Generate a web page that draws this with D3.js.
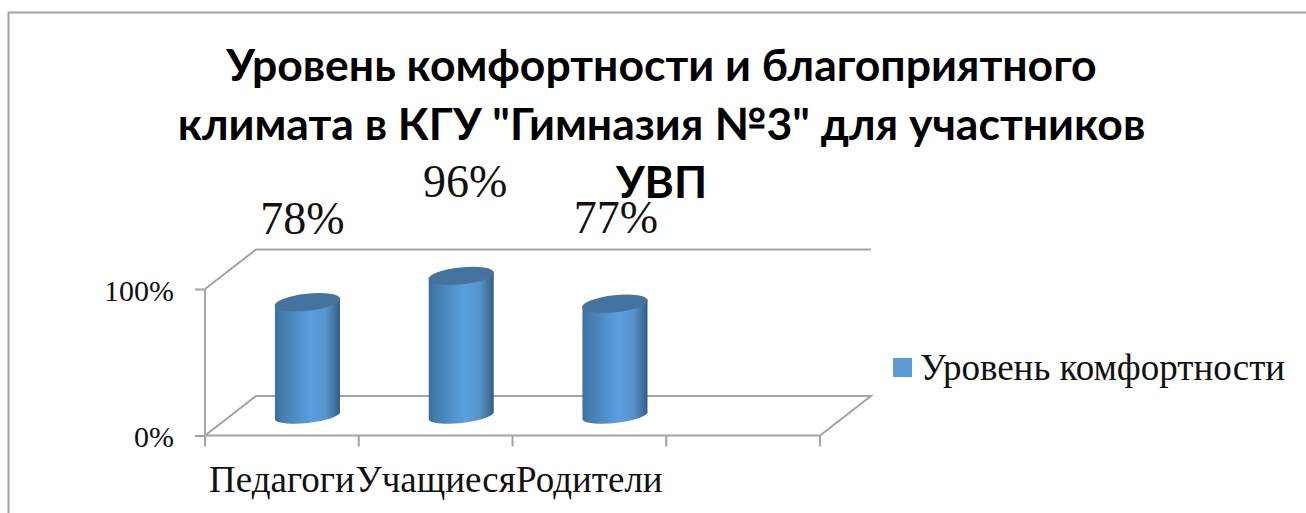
<!DOCTYPE html>
<html><head><meta charset="utf-8">
<script src="https://cdn.jsdelivr.net/npm/d3@7"></script>
<style>html,body{margin:0;padding:0;background:#fff}svg{display:block}</style>
</head><body><div id="c"></div>
<script>
const categories = ["Педагоги","Учащиеся","Родители",""];
const values = [78,96,77,null];
const seriesName = "Уровень комфортности";
const yTicks = [0,100];
const titleLines = ["Уровень комфортности и благоприятного","климата в КГУ \"Гимназия №3\" для участников","УВП"];

const labelNudge = [[-5,-68],[4,-79],[1,-71]];
const W=1306,H=513;
const svg=d3.select("#c").append("svg").attr("width",W).attr("height",H);
const defs=svg.append("defs");
const g=defs.append("linearGradient").attr("id","cyl");
[[0,"#3d6f9e"],[0.12,"#457dae"],[0.55,"#5b9fe0"],[0.78,"#5793cb"],[0.94,"#3f6f9b"],[1,"#33597c"]].forEach(s=>g.append("stop").attr("offset",s[0]).attr("stop-color",s[1]));

const GRID="#a3a3a3";
svg.append("path").attr("d",`M8.5,${H}V12.5H${W}`).attr("fill","none").attr("stroke",GRID).attr("stroke-width",2);

const x=d3.scaleBand().domain(categories).range([205,820]).padding(0);
const y=d3.scaleLinear().domain([0,100]).range([435.5,289]);
const dx=51,dy=-39.5;

const walls=svg.append("g").attr("fill","none").attr("stroke",GRID).attr("stroke-width",2);
const x0=x.range()[0],x1=x.range()[1];
walls.append("path").attr("d",`M${x0},${y(0)}L${x0+dx},${y(0)+dy}H${x1+dx}L${x1},${y(0)}Z`);
walls.append("path").attr("d",`M${x0},${y(100)}L${x0+dx},${y(100)+dy}H${x1+dx}`);
walls.append("path").attr("d",`M${x0},${y(100)}V${y(0)}`);

const yAxis=d3.axisLeft(y).tickValues(yTicks).tickFormat(d=>d+"%").tickSize(10).tickPadding(21);
const ya=svg.append("g").attr("transform",`translate(${x0},0)`).call(yAxis);
ya.select(".domain").remove();
ya.selectAll("line").attr("stroke",GRID).attr("stroke-width",2);
ya.selectAll("text").attr("font-family","'Liberation Serif'").attr("font-size",30).attr("fill","#111").attr("dy","0.37em");

const xTickPos=d3.range(categories.length+1).map(i=>x0+i*x.step());
svg.append("g").selectAll("line").data(xTickPos).join("line")
  .attr("x1",d=>d).attr("x2",d=>d).attr("y1",y(0)).attr("y2",y(0)+11)
  .attr("stroke",GRID).attr("stroke-width",2);
svg.append("g").selectAll("text").data(categories).join("text")
  .attr("x",d=>x(d)+x.bandwidth()/2).attr("y",492).attr("text-anchor","middle")
  .attr("font-family","'Liberation Serif'").attr("font-size",37).attr("fill","#111").text(d=>d);

const rx=32.5, tilt=-6, ry=8.5, floorY=y(0)-19, cx=25.6;
const hScale=v=>y(0)-y(v);
const data=categories.map((c,i)=>({c,v:values[i],i})).filter(d=>d.v!=null);
const bars=svg.append("g").selectAll("g").data(data).join("g")
  .attr("transform",d=>`translate(${x(d.c)+x.bandwidth()/2+cx},${floorY})`);
const sl=Math.tan(-tilt*Math.PI/180)*rx;
bars.append("path").attr("fill","url(#cyl)").attr("d",d=>{
  const h=hScale(d.v);
  return `M${-rx},${sl-h}L${-rx},${sl}A${rx+1},${ry} ${tilt} 0 0 ${rx},${-sl}L${rx},${-sl-h}Z`;
});
bars.append("ellipse").attr("cx",0).attr("cy",d=>-hScale(d.v)).attr("rx",rx+0.5).attr("ry",ry)
  .attr("transform",d=>`rotate(${tilt} 0 ${-hScale(d.v)})`).attr("fill","#44739f");

svg.append("g").selectAll("text").data(data).join("text")
  .attr("x",d=>x(d.c)+x.bandwidth()/2+cx+labelNudge[d.i][0])
  .attr("y",d=>floorY-hScale(d.v)+labelNudge[d.i][1])
  .attr("text-anchor","middle").attr("font-family","'Liberation Serif'").attr("font-size",46).attr("fill","#111")
  .text(d=>d.v+"%");

svg.append("g").selectAll("text").data(titleLines).join("text")
  .attr("x",661.5).attr("y",(d,i)=>81+i*58.5).attr("text-anchor","middle")
  .attr("font-family","Lato").attr("font-weight",700).attr("font-size",44.5).attr("fill","#000").text(d=>d);

svg.append("rect").attr("x",893).attr("y",358).attr("width",19).attr("height",19).attr("fill","#5b9bd5");
svg.append("text").attr("x",920).attr("y",380).attr("font-family","'Liberation Serif'").attr("font-size",37).attr("fill","#111").text(seriesName);
</script></body></html>
